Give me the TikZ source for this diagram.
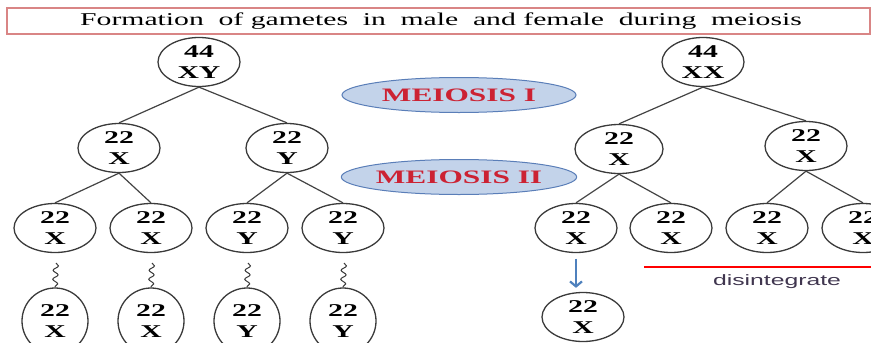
\documentclass[tikz,border=0pt]{standalone}
\usepackage{fontspec}
\setmainfont{Liberation Serif}
\newfontfamily\wideserif[FakeStretch=1.65]{Liberation Serif}
\newfontfamily\widesans[FakeStretch=1.65]{Liberation Sans}
\usetikzlibrary{shapes.geometric,decorations.pathmorphing,arrows.meta}

\definecolor{ringgray}{HTML}{3A3A3A}
\definecolor{linegray}{HTML}{434343}
\definecolor{titlered}{HTML}{D98585}
\definecolor{phaseblue}{HTML}{5A7EB8}
\definecolor{phasefill}{HTML}{C3D3EA}
\definecolor{phasered}{HTML}{CC2233}
\definecolor{arrowblue}{HTML}{4F81BD}
\definecolor{labelink}{HTML}{40364F}

% wide word gap used in the heading
\newcommand\wgap{\hspace{14.7pt}}

\begin{document}
\begin{tikzpicture}[x=1pt,y=-1pt,
  cell/.style={ellipse, draw=ringgray, line width=1.3pt, fill=white,
    minimum width=82pt, minimum height=49pt, inner sep=0pt, align=center,
    font=\wideserif\bfseries\fontsize{18}{21}\selectfont},
  sperm/.style={cell, minimum width=66pt, minimum height=66pt},
  branch/.style={draw=linegray, line width=1.2pt},
  tail/.style={draw=ringgray, line width=1pt, decorate,
    decoration={snake, segment length=9pt, amplitude=2.6pt}},
  phase/.style={ellipse, draw=phaseblue, fill=phasefill, line width=1pt,
    minimum width=234pt, minimum height=35pt, inner sep=0pt, text=phasered,
    font=\wideserif\bfseries\fontsize{19}{21}\selectfont},
  titlebox/.style={draw=titlered, line width=1.3pt, minimum width=863pt,
    minimum height=26pt, inner sep=0pt,
    font=\wideserif\fontsize{18}{20}\selectfont}
]
\useasboundingbox (0,0) rectangle (871,343);
\clip (0,0) rectangle (871,343);

% heading
\node[titlebox] (title) at (438.5,21)
  {\hspace{5pt}Formation\wgap of gametes\wgap in\wgap male\wgap and female\wgap during\wgap meiosis};

% phase labels
\node[phase] (m1) at (459,95) {MEIOSIS I};
\node[phase] (m2) at (459,177) {MEIOSIS II};

% male line
\node[cell] (mr) at (199,62) {44\\XY};
\node[cell] (mx) at (119,148) {22\\X};
\node[cell] (my) at (287,148) {22\\Y};
\node[cell] (ma) at (55,228) {22\\X};
\node[cell] (mb) at (151,228) {22\\X};
\node[cell] (mc) at (247,228) {22\\Y};
\node[cell] (md) at (343,228) {22\\Y};
\node[sperm] (sa) at (55,321) {22\\X};
\node[sperm] (sb) at (151,321) {22\\X};
\node[sperm] (sc) at (247,321) {22\\Y};
\node[sperm] (sd) at (343,321) {22\\Y};

\draw[branch] (mr.south) -- (mx.north);
\draw[branch] (mr.south) -- (my.north);
\draw[branch] (mx.south) -- (ma.north);
\draw[branch] (mx.south) -- (mb.north);
\draw[branch] (my.south) -- (mc.north);
\draw[branch] (my.south) -- (md.north);

% sperm tails
\foreach \s/\x in {sa/56,sb/152,sc/248,sd/344}{
  \coordinate (\s-tip) at (\x,263);
  \draw[tail] (\s-tip) -- (\s.north);
}

% female line
\node[cell] (fr) at (703,62) {44\\XX};
\node[cell, minimum width=88pt] (fx) at (619,149) {22\\X};
\node[cell] (fy) at (806,146) {22\\X};
\node[cell] (fa) at (576,228) {22\\X};
\node[cell] (fb) at (671,228) {22\\X};
\node[cell] (fc) at (767,228) {22\\X};
\node[cell] (fd) at (863,228) {22\\X};
\node[cell] (egg) at (583,317) {22\\X};

\draw[branch] (fr.south) -- (fx.north);
\draw[branch] (fr.south) -- (fy.north);
\draw[branch] (fx.south) -- (fa.north);
\draw[branch] (fx.south) -- (fb.north);
\draw[branch] (fy.south) -- (fc.north);
\draw[branch] (fy.south) -- (fd.north);

\draw[arrowblue, line width=2.2pt, shorten <=5.5pt, shorten >=4pt,
  -{Straight Barb[length=5pt,width=12pt]}]
  (fa.south) -- (fa.south |- egg.north);

% polar bodies
\coordinate (dl) at (644,267);
\coordinate (dr) at (871,267);
\draw[red, line width=1.8pt] (dl) -- (dr);
\node[text=labelink, font=\widesans\fontsize{15}{17}\selectfont] (dis) at (777,282) {disintegrate};
\end{tikzpicture}
\end{document}
